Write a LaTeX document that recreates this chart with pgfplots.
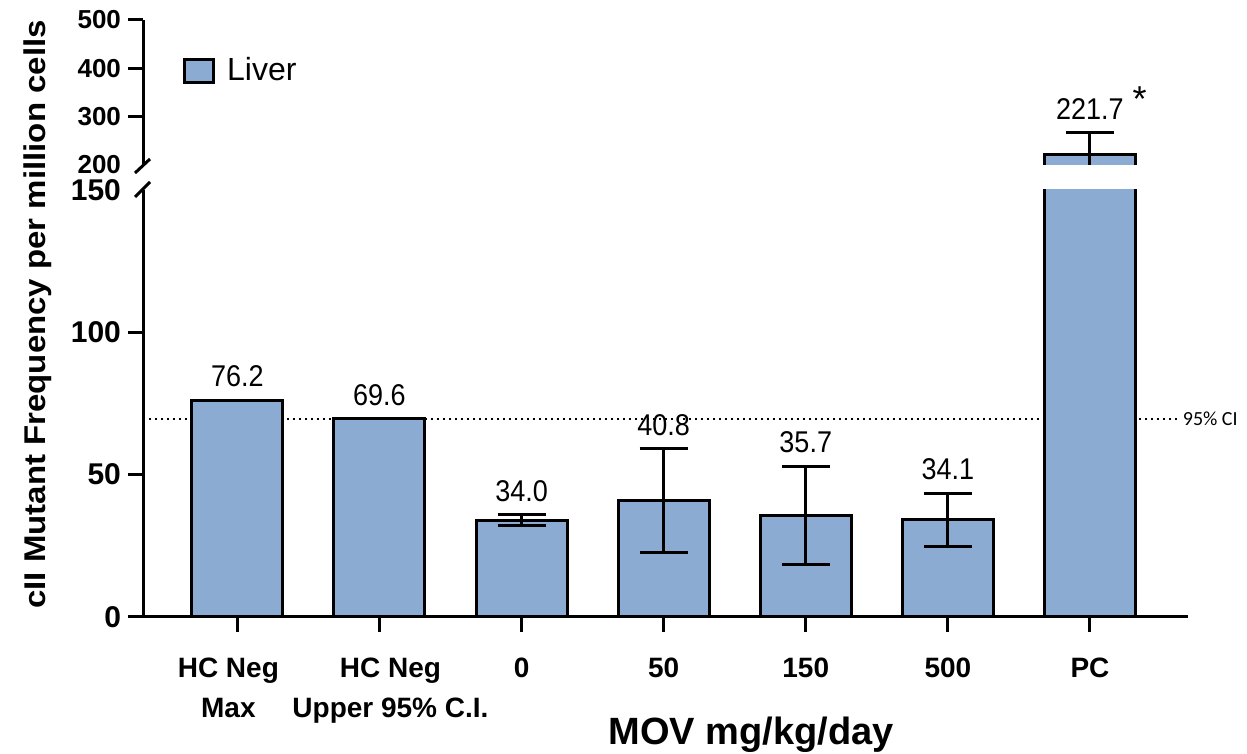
\documentclass[border=0pt]{standalone}
\usepackage{pgfplots}
\pgfplotsset{compat=1.18}
\usepackage{fontspec}
\setmainfont{Liberation Sans}
\newfontfamily\narrowfont[FakeStretch=0.9]{Liberation Sans}
\newfontfamily\widefont[FakeStretch=1.1]{Liberation Sans}
\newfontfamily\calfont{Carlito}
\definecolor{barblue}{RGB}{139,171,211}

\pgfplotstableread{
x y err
0 76.2 0
1 69.6 0
2 34.0 1.9
3 40.8 18.3
4 35.7 17.1
5 34.1 9.3
6 221.7 45
}\bars

\pgfplotstableread{
x y lab
0 76.2 76.2
1 69.6 69.6
2 35.9 34.0
3 59.1 40.8
4 52.8 35.7
5 43.4 34.1
}\labslow

\pgfplotstableread{
x y lab
6 266.7 221.7
}\labshigh

% upper piece of the PC bar (sides and top; bottom lies below the axis)
\pgfplotstableread{
x y
5.68 150
5.68 221.7
6.32 221.7
6.32 150
}\pcupper

\pgfplotstableread{
x y err
6 221.7 45
}\pcerr

\begin{document}
\begin{tikzpicture}
\path[use as bounding box] (0,0) rectangle (623.5pt,377pt);

% lower axis
\begin{axis}[
  at={(71.5pt,68.5pt)}, anchor=south west,
  scale only axis, width=522.5pt, height=213.5pt,
  xmin=-0.664, xmax=6.69, ymin=0, ymax=150,
  axis x line=bottom, axis y line=left,
  axis line style={line width=1.5pt,-},
  tick style={line width=1.5pt,black},
  major tick length=7.5pt, tick align=outside,
  xtick={0,...,6},
  xticklabels={{HC Neg\hspace*{9pt}\\Max\hspace*{9pt}},{\hspace*{11pt}HC Neg\\\hspace*{11pt}Upper 95\% C.I.},0,50,150,500,PC},
  xticklabel style={align=center, yshift=-9.5pt, font=\bfseries\fontsize{14}{20}\selectfont},
  ytick={0,50,100}, yticklabels={0,50,100},
  extra y ticks={150}, extra y tick labels={150},
  extra y tick style={major tick length=0pt, yticklabel style={xshift=-7.5pt}},
  yticklabel style={font=\bfseries\fontsize{15}{15}\selectfont},
  clip=true,
]
\addplot[black, dotted, line width=1pt] coordinates {(-0.62,69.6) (6.63,69.6)};
\coordinate (ci) at (axis cs:6.63,69.6);
\coordinate (lowtop) at (rel axis cs:0,1);
\addplot[ybar, bar width=0.64, fill=barblue, draw=black, line width=1.5pt,
  error bars/.cd, y dir=both, y explicit,
  error bar style={line width=1.5pt,black},
  error mark options={rotate=90, mark size=12pt, line width=1.5pt, black}]
  table[x=x, y=y, y error=err] {\bars};
\addplot[draw=none, mark=none, nodes near coords, point meta=explicit symbolic,
  nodes near coords style={anchor=south, inner sep=0pt, yshift=6.5pt, font=\narrowfont\fontsize{15}{15}\selectfont}]
  table[x=x, y=y, meta=lab] {\labslow};
\end{axis}

% upper axis
\begin{axis}[
  at={(71.5pt,294.5pt)}, anchor=south west,
  scale only axis, width=522.5pt, height=72.5pt,
  xmin=-0.664, xmax=6.69, ymin=200, ymax=500,
  axis x line=none, axis y line=left,
  axis line style={line width=1.5pt,-},
  tick style={line width=1.5pt,black},
  major tick length=7.5pt, tick align=outside,
  ytick={300,400,500}, yticklabels={300,400,500},
  extra y ticks={200}, extra y tick labels={200},
  extra y tick style={major tick length=0pt, yticklabel style={xshift=-7.5pt}},
  yticklabel style={font=\bfseries\fontsize{13}{13}\selectfont},
  legend style={at={(axis description cs:0.038,0.65)}, anchor=west, draw=none, fill=none,
    inner sep=0pt, font=\fontsize{16}{16}\selectfont,
    nodes={inner sep=0pt}},
  legend cell align=left,
  clip=true,
]
\coordinate (upbot) at (rel axis cs:0,0);
\addplot[fill=barblue, draw=black, line width=1.5pt,
  legend image code/.code={\draw[fill=barblue, draw=black, line width=1.5pt] (0pt,-5.75pt) rectangle (14.5pt,5.75pt);}]
  table[x=x, y=y] {\pcupper};
\addlegendentry{\hspace*{6pt}Liver}
\addplot[draw=none, mark=none, forget plot,
  error bars/.cd, y dir=both, y explicit,
  error bar style={line width=1.5pt,black},
  error mark options={rotate=90, mark size=12pt, line width=1.5pt, black}]
  table[x=x, y=y, y error=err] {\pcerr};
\addplot[draw=none, mark=none, nodes near coords, point meta=explicit symbolic, forget plot,
  nodes near coords style={anchor=south, inner sep=0pt, yshift=6.5pt, font=\narrowfont\fontsize{15}{15}\selectfont}]
  table[x=x, y=y, meta=lab] {\labshigh};
\coordinate (star) at (axis cs:6.35,349);
\end{axis}

% axis breaks
\draw[line width=1.5pt] ([xshift=-4pt,yshift=-3.5pt]lowtop) -- ([xshift=3.5pt,yshift=4pt]lowtop);
\draw[line width=1.5pt] ([xshift=-4pt,yshift=-4pt]upbot) -- ([xshift=3.5pt,yshift=3pt]upbot);

\node[anchor=west, inner sep=0pt, font=\calfont\fontsize{10}{10}\selectfont] at ([xshift=1.5pt]ci) {95\% CI};
\node[inner sep=0pt, font=\fontsize{18}{18}\selectfont] at ([yshift=-3pt]star) {*};

% axis titles
\node[rotate=90, font=\widefont\bfseries\fontsize{15}{15}\selectfont] at (19pt,219.75pt) {cII Mutant Frequency per million cells};
\node[anchor=base, font=\bfseries\fontsize{19}{19}\selectfont] at (375.5pt,4.5pt) {MOV mg/kg/day};
\end{tikzpicture}
\end{document}
